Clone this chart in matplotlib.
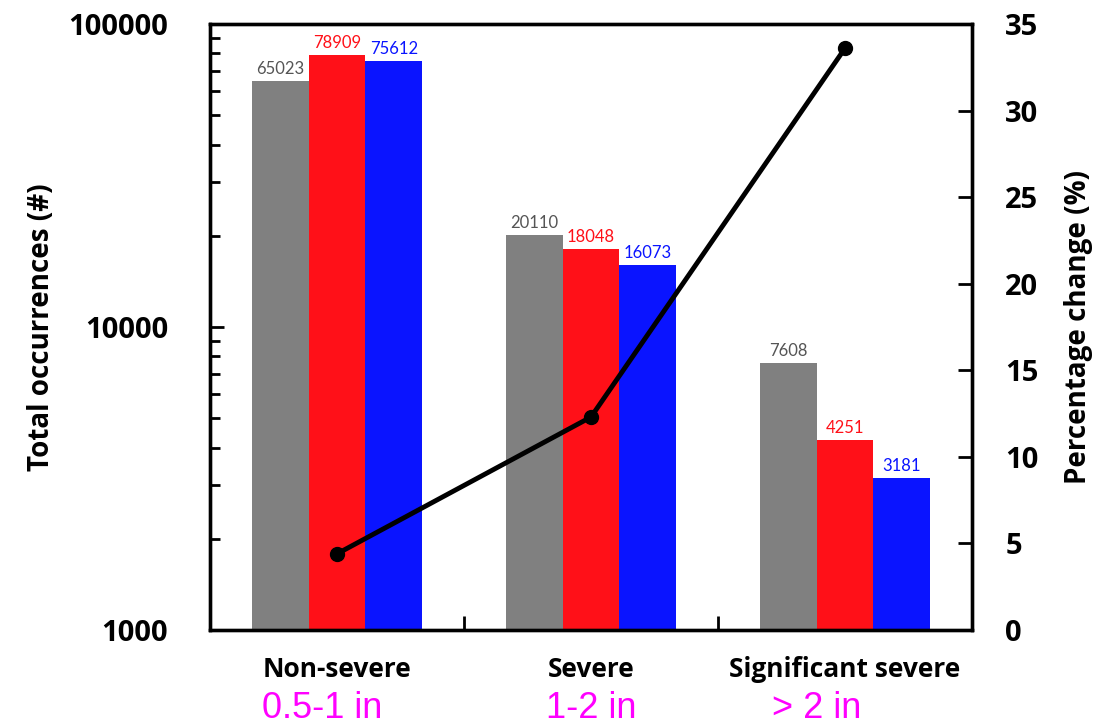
import numpy as np
import matplotlib.pyplot as plt
from matplotlib.transforms import blended_transform_factory

# hail size classes and their occurrence counts
categories = ['Non-severe', 'Severe', 'Significant severe']
size_ranges = ['0.5-1 in', '1-2 in', '> 2 in']
counts_grey = [65023, 20110, 7608]
counts_red = [78909, 18048, 4251]
counts_blue = [75612, 16073, 3181]
pct_change = [4.4, 12.3, 33.6]

bar_colors = ['#808080', '#ff1018', '#0a14ff']
label_colors = ['#555555', '#ff1018', '#0a14ff']

plt.rcParams['font.family'] = ['Open Sans', 'DejaVu Sans']

fig = plt.figure(figsize=(11.13, 7.26), dpi=100)
ax = fig.add_axes([210 / 1113, 96 / 726, 762 / 1113, 606 / 726])

x = np.arange(len(categories))
w = 0.224
series = [counts_grey, counts_red, counts_blue]
for k, vals in enumerate(series):
    pos = x + (k - 1) * w
    ax.bar(pos, vals, width=w, color=bar_colors[k], zorder=2)
    for px, v in zip(pos, vals):
        ax.text(px, v * 1.03, str(v), ha='center', va='bottom',
                fontsize=12, color=label_colors[k], family='Lato')

ax.set_yscale('log')
ax.set_ylim(1000, 100000)
ax.set_xlim(-0.5, 2.5)
ax.set_yticks([1000, 10000, 100000])
ax.set_yticklabels(['1000', '10000', '100000'], fontsize=21, fontweight='bold')
ax.tick_params(axis='y', which='major', direction='in', length=10, width=2, pad=30)
ax.tick_params(axis='y', which='minor', direction='in', length=7, width=2)
ax.set_ylabel('Total occurrences (#)', fontsize=20, fontweight='bold', labelpad=9)

ax.set_xticks([0.5, 1.5])
ax.set_xticklabels([])
ax.tick_params(axis='x', direction='in', length=10, width=2)

for s in ax.spines.values():
    s.set_linewidth(2.4)

# size-range captions sit slightly left of the category centre
range_shift = [-0.06, 0.0, -0.11]
trans = blended_transform_factory(ax.transData, ax.transAxes)
for i in range(len(categories)):
    ax.text(x[i], -0.065, categories[i], transform=trans, ha='center', va='center',
            fontsize=19, fontweight='bold')
    ax.text(x[i] + range_shift[i], -0.13, size_ranges[i], transform=trans,
            ha='center', va='center', fontsize=26, color='#ff00ff',
            family='Liberation Sans')

ax2 = ax.twinx()
ax2.plot(x, pct_change, color='black', lw=3.5, marker='o', markersize=10, zorder=3)
ax2.set_ylim(0, 35)
ax2.set_yticks(range(0, 36, 5))
ax2.set_yticklabels([str(t) for t in range(0, 36, 5)], fontsize=21, fontweight='bold')
ax2.tick_params(axis='y', direction='in', length=10, width=2, pad=24)
ax2.set_ylabel('Percentage change (%)', fontsize=20, fontweight='bold', labelpad=18)
for s in ax2.spines.values():
    s.set_linewidth(2.4)

fig.savefig('out.png', dpi=100)
